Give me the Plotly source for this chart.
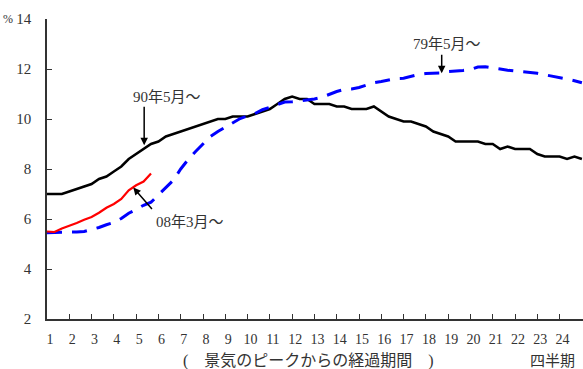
import plotly.graph_objects as go

# quarters since the business-cycle peak (monthly observations, 3 per quarter)
months = list(range(73))

# 90年5月～ (black solid)
s90 = [7.0, 7.0, 7.0, 7.1, 7.2, 7.3, 7.4, 7.6, 7.7, 7.9, 8.1, 8.4, 8.6, 8.8, 9.0, 9.1,
       9.3, 9.4, 9.5, 9.6, 9.7, 9.8, 9.9, 10.0, 10.0, 10.1, 10.1, 10.1, 10.2, 10.3, 10.4,
       10.6, 10.8, 10.9, 10.8, 10.8, 10.6, 10.6, 10.6, 10.5, 10.5, 10.4, 10.4, 10.4, 10.5,
       10.3, 10.1, 10.0, 9.9, 9.9, 9.8, 9.7, 9.5, 9.4, 9.3, 9.1, 9.1, 9.1, 9.1, 9.0, 9.0,
       8.8, 8.9, 8.8, 8.8, 8.8, 8.6, 8.5, 8.5, 8.5, 8.4, 8.5, 8.4]

# 79年5月～ (blue dashed)
s79 = [5.45, 5.45, 5.45, 5.45, 5.48, 5.5, 5.57, 5.66, 5.77, 5.86, 6.02, 6.23, 6.38, 6.55,
       6.67, 6.95, 7.25, 7.55, 8.0, 8.38, 8.7, 9.0, 9.3, 9.5, 9.68, 9.86, 10.02, 10.12,
       10.22, 10.37, 10.48, 10.6, 10.68, 10.69, 10.72, 10.76, 10.8, 10.87, 10.99, 11.1,
       11.18, 11.2, 11.26, 11.35, 11.45, 11.5, 11.55, 11.62, 11.63, 11.72, 11.78, 11.82,
       11.84, 11.84, 11.9, 11.91, 11.94, 11.98, 12.08, 12.09, 12.03, 12.0, 11.95, 11.92,
       11.9, 11.89, 11.83, 11.77, 11.72, 11.65, 11.6, 11.53, 11.45]

# 08年3月～ (red solid)
s08 = [5.5, 5.48, 5.62, 5.72, 5.84, 5.97, 6.08, 6.25, 6.45, 6.6, 6.8, 7.15, 7.35, 7.5, 7.82]

xticks = list(range(1, 25))
yticks = [2, 4, 6, 8, 10, 12, 14]

def qx(n):
    return [1 + m / 3 for m in months[:n]]

FONT = "Liberation Serif, Times New Roman, Noto Sans CJK JP, serif"
TXT = "#333333"

fig = go.Figure()
fig.add_trace(go.Scatter(x=qx(len(s90)), y=s90, mode="lines",
                         line=dict(color="#000000", width=2.5)))
fig.add_trace(go.Scatter(x=qx(len(s79)), y=s79, mode="lines",
                         line=dict(color="#0000ff", width=3, dash="15px,10px")))
fig.add_trace(go.Scatter(x=qx(len(s08)), y=s08, mode="lines",
                         line=dict(color="#ff0000", width=2.2)))

fig.update_layout(
    width=583, height=369,
    margin=dict(l=47, r=0, t=19, b=50),
    plot_bgcolor="white", paper_bgcolor="white",
    showlegend=False,
    font=dict(family=FONT, color=TXT, size=14),
)
fig.update_xaxes(range=[1, 25.05], tickvals=xticks, ticktext=[str(t) for t in xticks],
                 ticks="inside", ticklen=5, tickcolor="#333", tickwidth=1,
                 showgrid=False, zeroline=False, showline=True, linecolor="#333",
                 linewidth=1.5, tickfont=dict(size=14, family=FONT, color=TXT),
                 ticklabelshift=3, ticklabelstandoff=6, automargin=False)
fig.update_yaxes(range=[2, 14], tickvals=yticks, ticks="inside", ticklen=5,
                 tickcolor="#333", tickwidth=1, showgrid=False, zeroline=False,
                 showline=True, linecolor="#333", linewidth=1.5,
                 tickfont=dict(size=15, family=FONT, color=TXT), ticklabelstandoff=11,
                 automargin=False)

ann = []
# arrows
ann.append(dict(x=5.36, y=8.95, xref="x", yref="y", text="", showarrow=True,
                ax=0, ay=-40, arrowhead=2, arrowsize=1, arrowwidth=1.5, arrowcolor="#000"))
ann.append(dict(x=4.87, y=7.26, xref="x", yref="y", text="", showarrow=True,
                ax=20, ay=23, arrowhead=2, arrowsize=1, arrowwidth=1.5, arrowcolor="#000"))
ann.append(dict(x=18.71, y=11.83, xref="x", yref="y", text="", showarrow=True,
                ax=0, ay=-20, arrowhead=2, arrowsize=1, arrowwidth=1.5, arrowcolor="#000"))
# labels
lab = dict(showarrow=False, xanchor="center", yanchor="middle",
           font=dict(size=15, family=FONT, color=TXT))
ann.append(dict(x=6.38, y=10.89, xref="x", yref="y", text="90年5月～", **lab))
ann.append(dict(x=7.41, y=5.88, xref="x", yref="y", text="08年3月～", **lab))
ann.append(dict(x=18.94, y=13.02, xref="x", yref="y", text="79年5月～", **lab))
ann.append(dict(x=(8 - 47) / 536, y=1, xref="paper", yref="paper", text="%",
                showarrow=False, xanchor="center", yanchor="middle",
                font=dict(size=12, family=FONT, color=TXT)))
ann.append(dict(x=(308 - 47) / 536, y=(318.7 - 361) / 300, xref="paper", yref="paper",
                text="(　景気のピークからの経過期間　)", showarrow=False,
                xanchor="center", yanchor="middle",
                font=dict(size=16, family=FONT, color=TXT)))
ann.append(dict(x=(552 - 47) / 536, y=(318.7 - 361) / 300, xref="paper", yref="paper",
                text="四半期", showarrow=False, xanchor="center", yanchor="middle",
                font=dict(size=15, family=FONT, color=TXT)))
fig.update_layout(annotations=ann)

fig.write_html("out.html", config={"displayModeBar": False},
               post_script="document.body.style.margin='0';document.body.style.padding='0';")
